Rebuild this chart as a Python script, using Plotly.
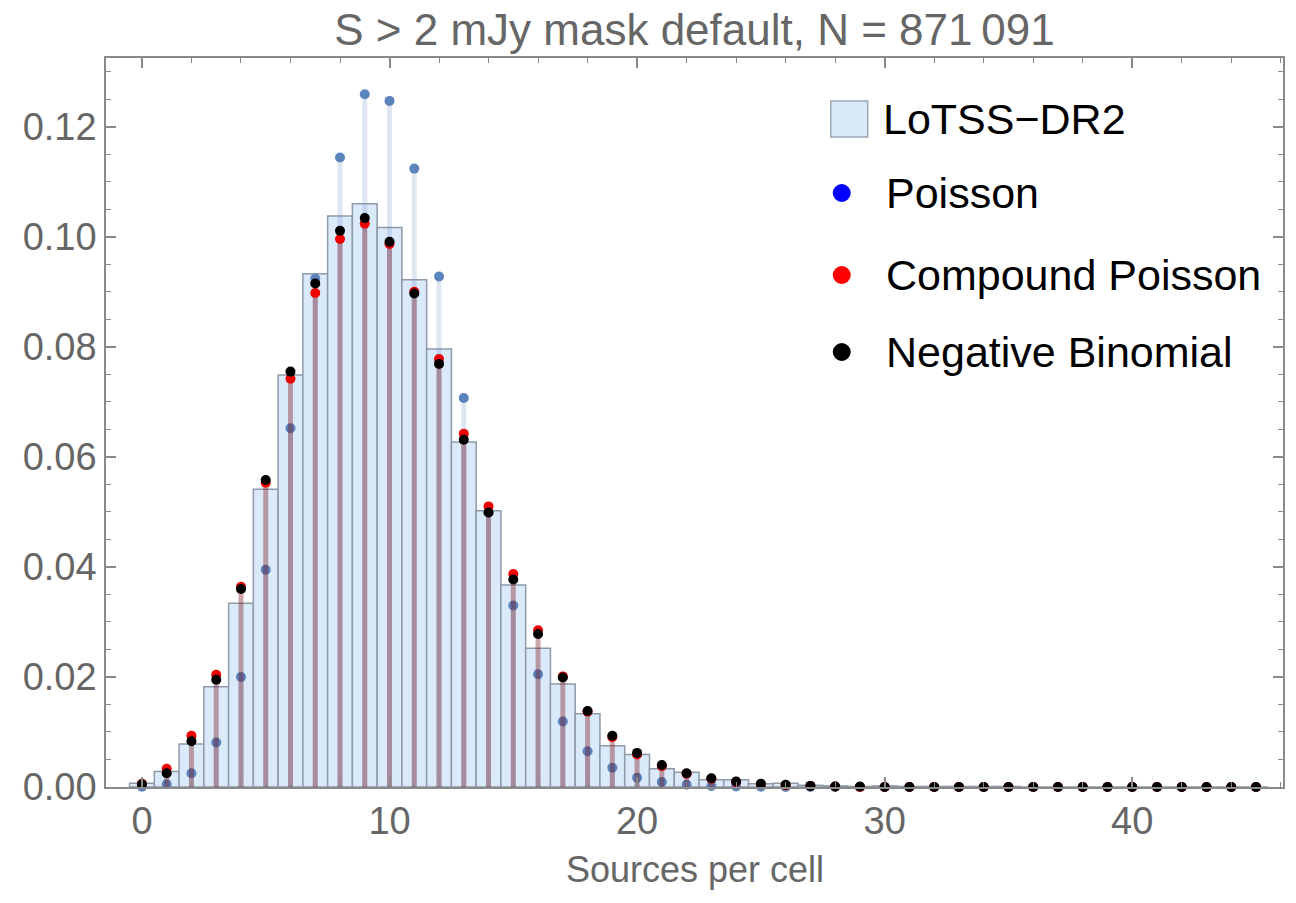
import plotly.graph_objects as go

# ---------------- data ----------------
k = list(range(46))

lotss = [0.0007, 0.0028, 0.0078, 0.0182, 0.0334, 0.0541, 0.0749, 0.0933, 0.1038, 0.1060,
         0.1017, 0.0922, 0.0796, 0.0627, 0.0502, 0.0367, 0.0252, 0.0187, 0.0133, 0.0075,
         0.0059, 0.0033, 0.0027, 0.0013, 0.0013, 0.0006, 0.0007, 0.0003, 0.0002, 0.0001,
         0.0002, 0.0001, 0.0001, 0.0001, 0.0001, 0.0001, 0, 0, 0, 0,
         0, 0, 0, 0, 0, 0]

poisson = [0.00005, 0.0005, 0.0025, 0.0081, 0.0200, 0.0395, 0.0652, 0.0924, 0.1144, 0.1259,
           0.1247, 0.1124, 0.0928, 0.0707, 0.0499, 0.0330, 0.0205, 0.0119, 0.0065, 0.0035,
           0.0017, 0.0009, 0.0004, 0.0002, 0.0001, 0.00003, 0, 0, 0, 0,
           0, 0, 0, 0, 0, 0, 0, 0, 0, 0,
           0, 0, 0, 0, 0, 0]

compound = [0.0006, 0.0033, 0.0093, 0.0204, 0.0364, 0.0553, 0.0742, 0.0898, 0.0996, 0.1024,
            0.0987, 0.0900, 0.0778, 0.0642, 0.0510, 0.0387, 0.0285, 0.0201, 0.0137, 0.0091,
            0.0059, 0.0038, 0.0024, 0.0015, 0.0009, 0.0005, 0.0003, 0.0002, 0.0001, 0,
            0, 0, 0, 0, 0, 0, 0, 0, 0, 0,
            0, 0, 0, 0, 0, 0]

negbin = [0.0005, 0.0025, 0.0083, 0.0195, 0.0360, 0.0558, 0.0755, 0.0915, 0.1011, 0.1034,
          0.0991, 0.0897, 0.0769, 0.0631, 0.0499, 0.0377, 0.0278, 0.0199, 0.0138, 0.0093,
          0.0062, 0.0040, 0.0025, 0.0016, 0.0010, 0.0006, 0.0004, 0.0002, 0.0001, 0.0001,
          0, 0, 0, 0, 0, 0, 0, 0, 0, 0,
          0, 0, 0, 0, 0, 0]

legend_labels = ["LoTSS\u2212DR2", "Poisson", "Compound Poisson", "Negative Binomial"]
title_text = "S > 2 mJy mask default, N = 871\u2009091"
x_title = "Sources per cell"
x_tickvals = [0, 10, 20, 30, 40]
y_tickvals = [0, 0.02, 0.04, 0.06, 0.08, 0.10, 0.12]
y_ticktext = ["0.00", "0.02", "0.04", "0.06", "0.08", "0.10", "0.12"]

# ---------------- layout geometry ----------------
W, H = 1296, 903
PL, PR, PT, PB = 106, 1285, 58, 787   # plot-area pixel box
FONT = "Liberation Sans, Arial, Helvetica, sans-serif"
GRAY = "#666666"
FRAME = "#8a8a8a"


def stems(xv, yv):
    xs, ys = [], []
    for a, b in zip(xv, yv):
        xs += [a, a, None]
        ys += [0, b, None]
    return xs, ys


fig = go.Figure()

fig.add_trace(go.Bar(x=k, y=lotss, width=1.0,
                     marker=dict(color="#dbeafa", line=dict(color="#8e9aa8", width=1.5)),
                     showlegend=False, name=legend_labels[0]))

sx, sy = stems(k, poisson)
fig.add_trace(go.Scatter(x=sx, y=sy, mode="lines",
                         line=dict(color="rgba(91,132,189,0.2)", width=5),
                         showlegend=False, hoverinfo="skip"))
fig.add_trace(go.Scatter(x=k, y=poisson, mode="markers",
                         marker=dict(color="#5b84bd", size=10),
                         cliponaxis=False, showlegend=False, name=legend_labels[1]))

sx, sy = stems(k, compound)
fig.add_trace(go.Scatter(x=sx, y=sy, mode="lines",
                         line=dict(color="rgba(120,10,20,0.37)", width=5),
                         showlegend=False, hoverinfo="skip"))
fig.add_trace(go.Scatter(x=k, y=compound, mode="markers",
                         marker=dict(color="#ee0000", size=10),
                         cliponaxis=False, showlegend=False, name=legend_labels[2]))

fig.add_trace(go.Scatter(x=k, y=negbin, mode="markers",
                         marker=dict(color="black", size=10),
                         cliponaxis=False, showlegend=False, name=legend_labels[3]))

# ---------------- custom legend ----------------
pw, ph = PR - PL, PB - PT


def px(x):
    return (x - PL) / pw


def py(y):
    return (PB - y) / ph


shapes = []
annotations = []
shapes.append(dict(type="rect", xref="paper", yref="paper",
                   x0=px(832), x1=px(869), y0=py(137), y1=py(101),
                   fillcolor="#dbeafa", line=dict(color="#9aa6b2", width=1.5)))
dot_colors = ["#0000ff", "#ff0000", "#000000"]
dot_y = [193, 275, 352]
for c, yy in zip(dot_colors, dot_y):
    r = 9
    shapes.append(dict(type="circle", xref="paper", yref="paper",
                       x0=px(843 - r), x1=px(843 + r), y0=py(yy + r), y1=py(yy - r),
                       fillcolor=c, line=dict(width=0)))
text_y = [119, 193, 275, 352]
text_x = [882, 885, 885, 885]
for lab, tx, ty in zip(legend_labels, text_x, text_y):
    annotations.append(dict(text=lab, xref="paper", yref="paper", x=px(tx), y=py(ty),
                            xanchor="left", yanchor="middle", showarrow=False,
                            font=dict(family=FONT, size=43, color="black")))

# x-axis title
annotations.append(dict(text=x_title, xref="paper", yref="paper", x=0.5, y=py(869),
                        xanchor="center", yanchor="middle", showarrow=False,
                        font=dict(family=FONT, size=36, color=GRAY)))

fig.update_layout(
    width=W, height=H,
    margin=dict(l=PL, r=W - PR, t=PT, b=H - PB, pad=0),
    paper_bgcolor="white", plot_bgcolor="white",
    barmode="overlay",
    showlegend=False,
    title=dict(text=title_text, x=0.5, xref="paper", xanchor="center",
               y=1 - 30 / H, yref="container", yanchor="middle",
               font=dict(family=FONT, size=44, color=GRAY)),
    shapes=shapes,
    annotations=annotations,
    font=dict(family=FONT),
)

fig.update_xaxes(range=[-1.452, 46.09], showgrid=False, zeroline=False,
                 showline=True, linecolor=FRAME, linewidth=1.5, mirror="allticks",
                 ticks="inside", ticklen=10, tickwidth=1.5, tickcolor=FRAME,
                 tickvals=x_tickvals, ticklabelstandoff=0,
                 minor=dict(ticks="inside", ticklen=5, tickwidth=1.2, tickcolor=FRAME, dtick=2, tick0=0),
                 tickfont=dict(family=FONT, size=38, color=GRAY))

fig.update_yaxes(range=[0, 0.1325], showgrid=False, zeroline=False,
                 showline=True, linecolor=FRAME, linewidth=1.5, mirror="allticks",
                 ticks="inside", ticklen=10, tickwidth=1.5, tickcolor=FRAME,
                 tickvals=y_tickvals, ticktext=y_ticktext,
                 minor=dict(ticks="inside", ticklen=5, tickwidth=1.2, tickcolor=FRAME, dtick=0.005, tick0=0),
                 tickfont=dict(family=FONT, size=38, color=GRAY))

fig.write_html("out.html")
